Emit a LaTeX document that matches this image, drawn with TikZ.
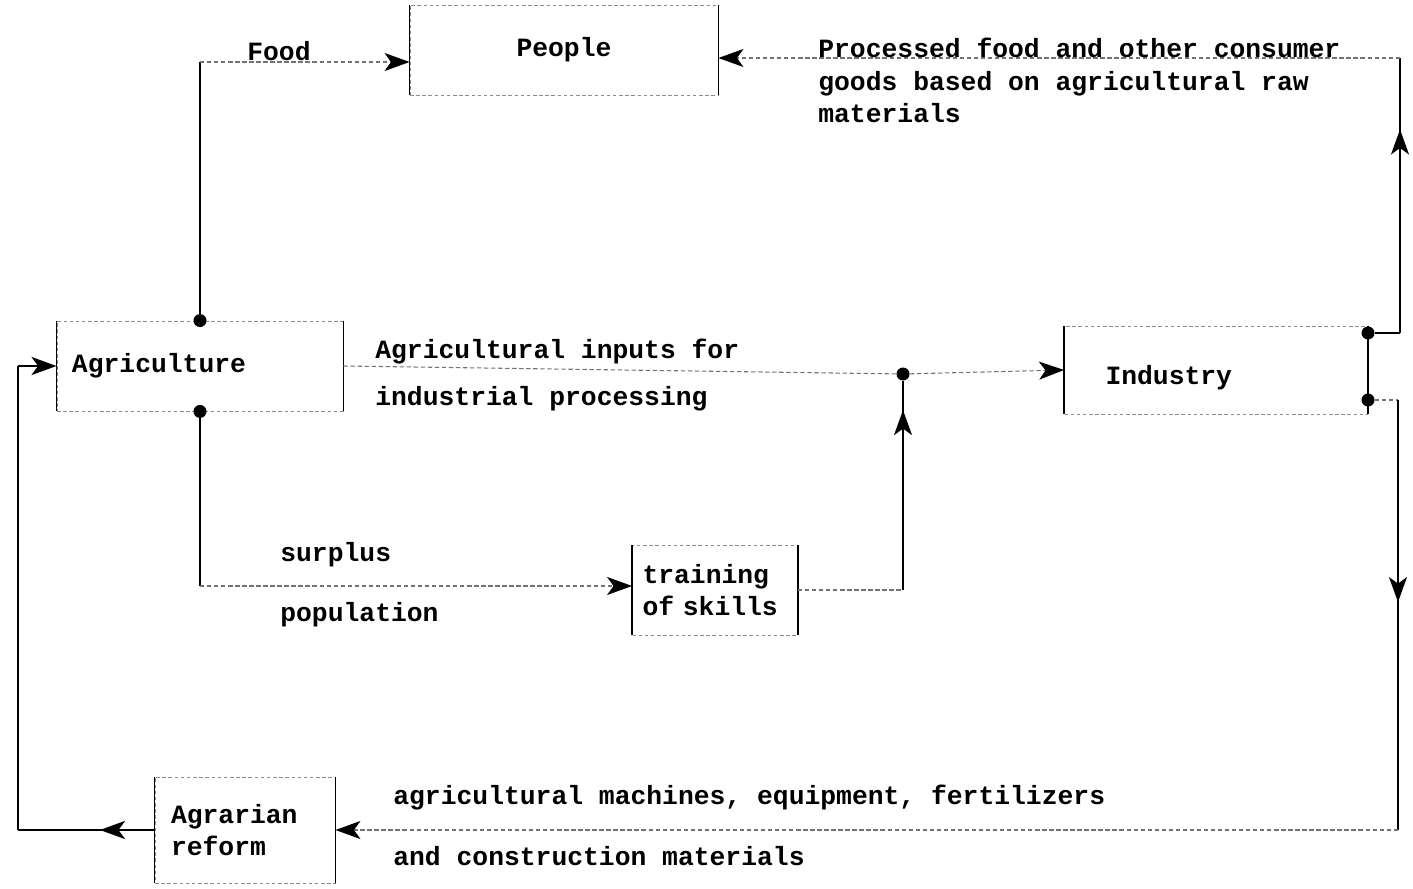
\documentclass[tikz,border=0pt]{standalone}
\usepackage{fontspec}
\setmonofont{Liberation Mono}
\usepackage{tikz}
\usetikzlibrary{arrows.meta, positioning, calc, decorations.markings}

\begin{document}
\begin{tikzpicture}[x=0.2mm, y=-0.2mm,
	font=\ttfamily\bfseries\fontsize{15}{18.5}\selectfont,
	box/.style={draw=black!45, dash pattern=on 2pt off 1.5pt, line width=0.5pt, minimum height=1.8cm, inner sep=0pt},
	ln/.style={line width=1pt, black},
	hl/.style={line width=0.6pt, black!55, dash pattern=on 2.5pt off 1.5pt},
	ar/.style={-{Stealth[length=5mm, width=3.6mm, inset=1.3mm, color=black]}},
	midarr/.style={postaction={decorate}, decoration={markings,
		mark=at position #1 with {\arrow{Stealth[length=5mm, width=3.6mm, inset=1.3mm]}}}},
	dot/.style={circle, fill=black, inner sep=0pt, minimum size=2.6mm},
	lbl/.style={anchor=base west, inner sep=0pt}]

	\useasboundingbox (0,0) rectangle (1413,889);

	% boxes
	\node[box, minimum width=6.16cm] (people) at (564,50) {People};
	\node[box, text width=5.12cm, inner xsep=0.3cm, align=left] (agri) at (200,366) {Agriculture};
	\node[box, text width=4.42cm, inner xsep=0.82cm, align=left, minimum height=1.76cm] (ind) at (1216,370) {\rule{0pt}{0.68cm}Industry};
	\node[box, text width=2.9cm, inner xsep=0.2cm, align=left] (train) at (715,590) {training\\of skills};
	\node[box, text width=2.96cm, inner xsep=0.32cm, align=left, minimum height=2.12cm] (agrar) at (245,830) {Agrarian\\reform};
	\foreach \b in {people, agri, ind, train, agrar}
		\draw[ln] (\b.north west) -- (\b.south west) (\b.north east) -- (\b.south east);

	% junction dots
	\node[dot] (dtop) at (agri.north) {};
	\node[dot] (dbot) at (agri.south) {};
	\node[dot] (junc) at (903,374) {};
	\node[dot] (dup) at (1368,333) {};
	\node[dot] (ddown) at (1368,400) {};

	% corners
	\coordinate (fc) at (200,62);
	\coordinate (pc) at (1400,333);
	\coordinate (pc2) at (1400,58);
	\coordinate (sc) at (200,586);
	\coordinate (tc) at (903,590);
	\coordinate (dc) at (1398,400);
	\coordinate (bc) at (1398,830);
	\coordinate (lc) at (18,830);
	\coordinate (lc2) at (18,366);

	% food
	\draw[ln] (dtop) -- (fc);
	\draw[hl, ar] (fc) -- (fc -| people.west);
	\node[lbl] (food) at (247,61) {Food};

	% processed goods
	\draw[ln] (dup) -- (pc);
	\draw[ln, midarr=0.74] (pc) -- (pc2);
	\draw[hl, ar] (pc2) -- (pc2 -| people.east);
	\node[lbl, align=left] (proc) at (818,123) {Processed food and other consumer\\goods based on agricultural raw\\materials};

	% agricultural inputs
	\draw[hl] (agri.east) -- (junc);
	\draw[hl, ar] (junc) -- (ind.west);
	\node[lbl] (inp1) at (375,358) {Agricultural inputs for};
	\node[lbl] (inp2) at (375,405) {industrial processing};

	% surplus population
	\draw[ln] (dbot) -- (sc);
	\draw[hl, ar] (sc) -- (sc -| train.west);
	\node[lbl] (surp) at (280,561) {surplus};
	\node[lbl] (popu) at (280,621) {population};
	\draw[hl] (train.east) -- (tc);
	\draw[ln, midarr=0.86] (tc) -- (junc);

	% machines
	\draw[ln] (ind.east) -- (dup);
	\draw[hl] (ddown) -- (dc);
	\draw[ln, midarr=0.47] (dc) -- (bc);
	\draw[hl, ar] (bc) -- (bc -| agrar.east);
	\node[lbl] (mach1) at (393,804) {agricultural machines, equipment, fertilizers};
	\node[lbl] (mach2) at (393,865) {and construction materials};

	% agrarian reform
	\draw[ln, line width=1.6pt, midarr=0.4] (agrar.west) -- (lc);
	\draw[ln, line width=1.4pt] (lc) -- (lc2);
	\draw[ln, line width=1.4pt, ar] (lc2) -- (agri.west);
\end{tikzpicture}
\end{document}
